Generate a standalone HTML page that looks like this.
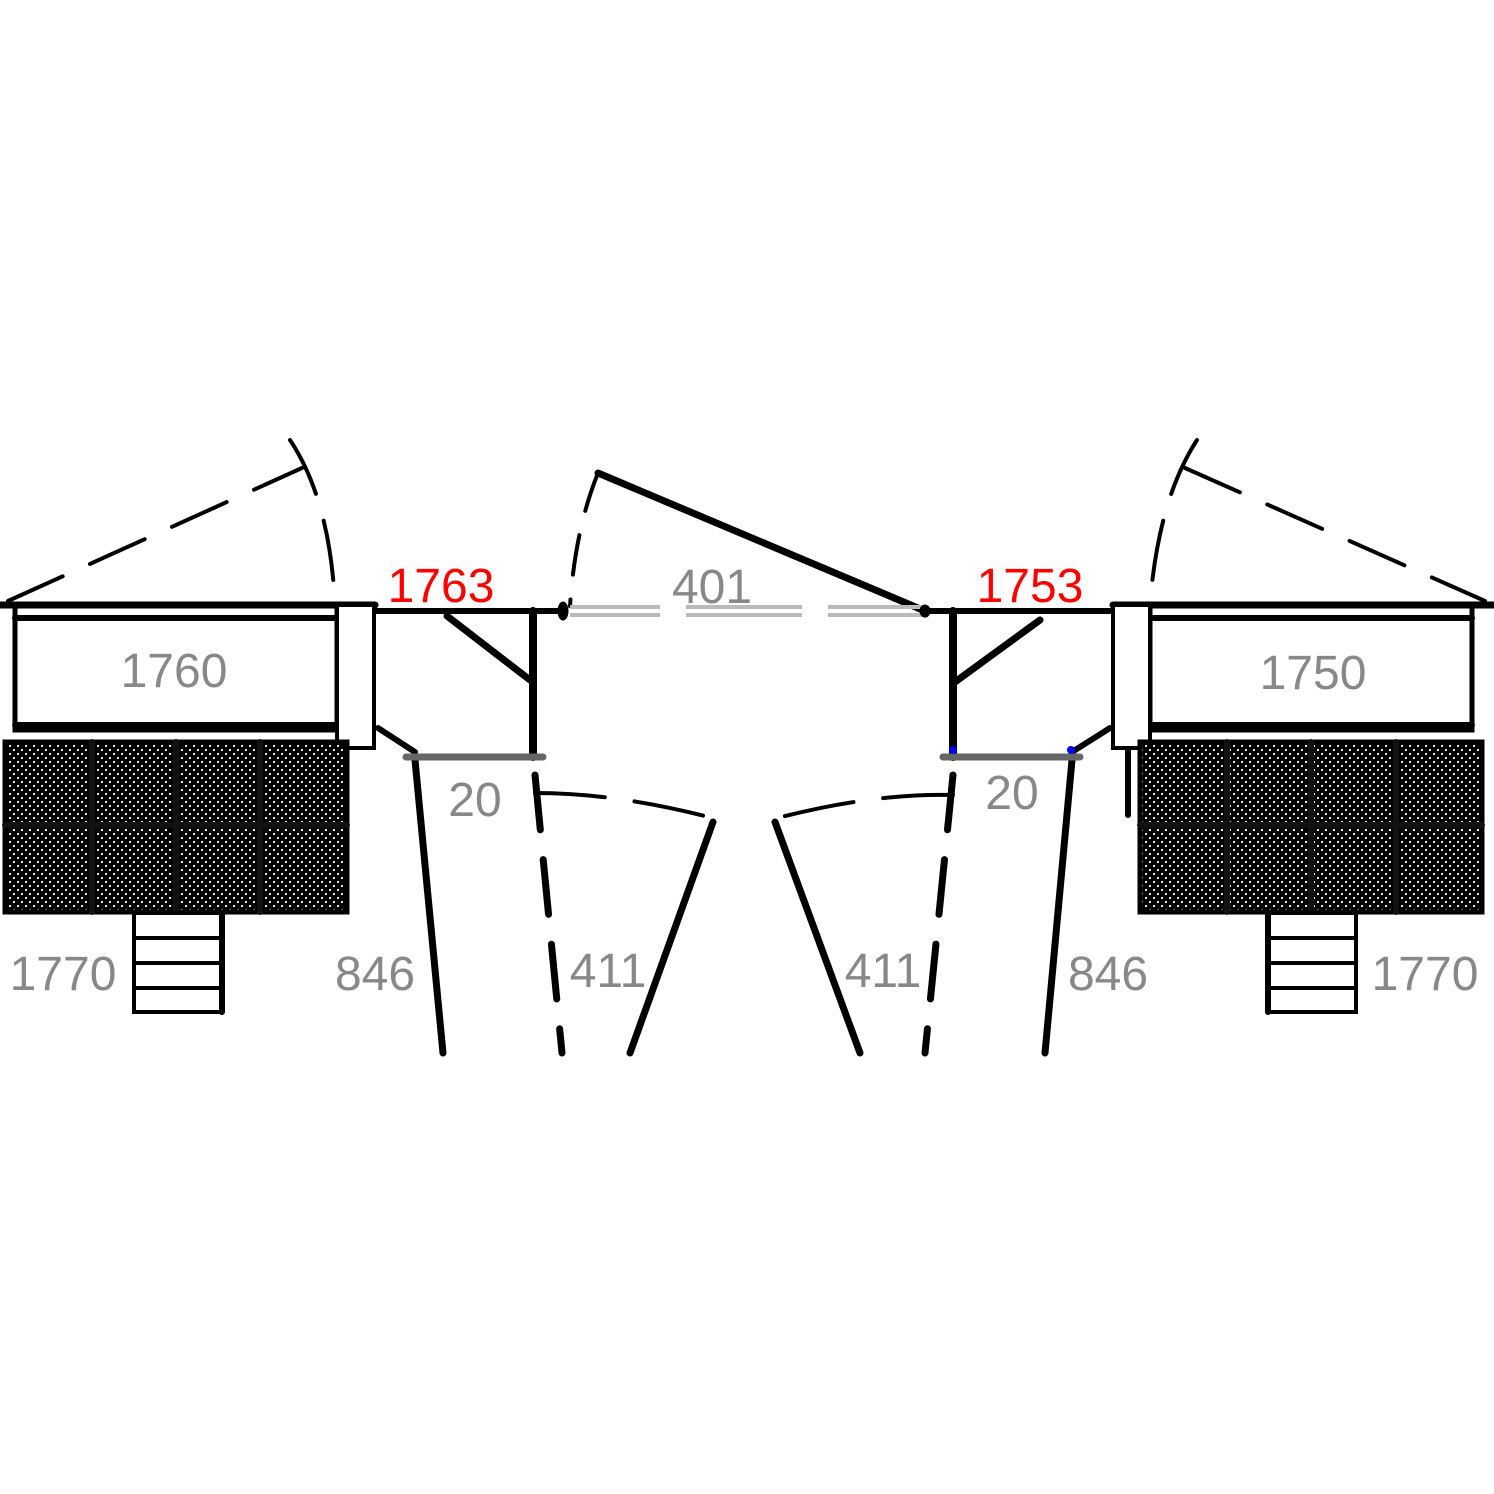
<!DOCTYPE html>
<html><head><style>body{margin:0;background:#fff}svg{display:block}</style></head><body>
<svg width="1494" height="1494" viewBox="0 0 1494 1494" xmlns="http://www.w3.org/2000/svg">
<defs>
<pattern id="dots" width="8" height="8" patternUnits="userSpaceOnUse"><rect width="8" height="8" fill="#000"/><circle cx="2" cy="2" r="1.1" fill="#fff"/><circle cx="6" cy="6" r="1.1" fill="#fff"/></pattern>
</defs>
<g fill="none" stroke="#000" stroke-linecap="round">
<!-- LEFT -->
<path d="M8 601 L302 468" stroke-width="4" stroke-dasharray="60 30"/>
<path d="M290 440 Q330 500 335 605" stroke-width="4" stroke-dasharray="60 28"/>
<line x1="0" y1="605" x2="375" y2="605" stroke-width="7"/>
<rect x="15" y="605" width="322" height="125" stroke-width="5"/>
<line x1="15" y1="618" x2="337" y2="618" stroke-width="6"/>
<line x1="15" y1="725" x2="337" y2="725" stroke-width="6"/>
<rect x="337" y="605" width="37" height="143" stroke-width="4" fill="#fff"/>
<rect x="5" y="742" width="342" height="170" fill="url(#dots)" stroke-width="5"/>
<line x1="5" y1="825" x2="347" y2="825" stroke="#111" stroke-width="6"/>
<line x1="92" y1="742" x2="92" y2="912" stroke="#111" stroke-width="6"/>
<line x1="176" y1="742" x2="176" y2="912" stroke="#111" stroke-width="6"/>
<line x1="260" y1="742" x2="260" y2="912" stroke="#111" stroke-width="6"/>
<rect x="134" y="913" width="88" height="99" stroke-width="4"/>
<line x1="134" y1="938" x2="222" y2="938" stroke-width="4"/>
<line x1="134" y1="963" x2="222" y2="963" stroke-width="4"/>
<line x1="134" y1="988" x2="222" y2="988" stroke-width="4"/>
<line x1="222" y1="913" x2="222" y2="1012" stroke-width="6"/>
<line x1="375" y1="611" x2="560" y2="611" stroke-width="6"/>
<line x1="447" y1="616" x2="530" y2="680" stroke-width="7"/>
<line x1="533" y1="611" x2="533" y2="757" stroke-width="8"/>
<line x1="378" y1="728" x2="415" y2="752" stroke-width="6"/>
<line x1="415" y1="760" x2="443" y2="1053" stroke-width="7"/>
<line x1="535" y1="775" x2="562" y2="1053" stroke-width="7" stroke-dasharray="55 30"/>
<path d="M535 793 Q620 793 720 820" stroke-width="4" stroke-dasharray="70 30"/>
<line x1="713" y1="822" x2="630" y2="1053" stroke-width="7"/>
<ellipse cx="563" cy="611" rx="5" ry="9" fill="#000"/>
<path d="M598 473 Q575 530 570 606" stroke-width="4" stroke-dasharray="40 25"/>
<line x1="598" y1="473" x2="925" y2="611" stroke-width="7"/>
<!-- gate -->
<g stroke="#bbb" stroke-width="4" stroke-linecap="butt">
<path d="M570 607 H660 M686 607 H802 M828 607 H925"/>
<path d="M570 615 H660 M686 615 H802 M828 615 H925"/>
</g>
<line x1="406" y1="757" x2="543" y2="757" stroke="#666" stroke-width="7"/>
<!-- RIGHT -->
<path d="M1185 468 L1485 601" stroke-width="4" stroke-dasharray="60 30"/>
<path d="M1197 440 Q1158 500 1150 605" stroke-width="4" stroke-dasharray="60 28"/>
<line x1="1113" y1="605" x2="1494" y2="605" stroke-width="7"/>
<rect x="1150" y="605" width="322" height="125" stroke-width="5"/>
<line x1="1150" y1="618" x2="1472" y2="618" stroke-width="6"/>
<line x1="1150" y1="725" x2="1472" y2="725" stroke-width="6"/>
<rect x="1113" y="605" width="37" height="143" stroke-width="4" fill="#fff"/>
<rect x="1140" y="742" width="342" height="170" fill="url(#dots)" stroke-width="5"/>
<line x1="1128" y1="750" x2="1128" y2="815" stroke-width="6"/>
<line x1="1140" y1="825" x2="1482" y2="825" stroke="#111" stroke-width="6"/>
<line x1="1227" y1="742" x2="1227" y2="912" stroke="#111" stroke-width="6"/>
<line x1="1311" y1="742" x2="1311" y2="912" stroke="#111" stroke-width="6"/>
<line x1="1396" y1="742" x2="1396" y2="912" stroke="#111" stroke-width="6"/>
<rect x="1268" y="913" width="88" height="99" stroke-width="4"/>
<line x1="1268" y1="938" x2="1356" y2="938" stroke-width="4"/>
<line x1="1268" y1="963" x2="1356" y2="963" stroke-width="4"/>
<line x1="1268" y1="988" x2="1356" y2="988" stroke-width="4"/>
<line x1="1268" y1="913" x2="1268" y2="1012" stroke-width="6"/>
<line x1="925" y1="611" x2="1110" y2="611" stroke-width="6"/>
<line x1="1040" y1="620" x2="955" y2="682" stroke-width="7"/>
<line x1="953" y1="611" x2="953" y2="757" stroke-width="8"/>
<line x1="1110" y1="728" x2="1072" y2="752" stroke-width="6"/>
<line x1="1072" y1="760" x2="1045" y2="1053" stroke-width="7"/>
<line x1="953" y1="775" x2="925" y2="1053" stroke-width="7" stroke-dasharray="55 30"/>
<path d="M953 795 Q870 793 770 820" stroke-width="4" stroke-dasharray="70 30"/>
<line x1="775" y1="822" x2="860" y2="1053" stroke-width="7"/>
<ellipse cx="925" cy="611" rx="5" ry="6" fill="#000"/>
<line x1="943" y1="757" x2="1080" y2="757" stroke="#666" stroke-width="7"/>
</g>
<circle cx="953" cy="750" r="4" fill="#00f"/>
<circle cx="1071" cy="750" r="4" fill="#00f"/>
<g font-family="Liberation Sans, sans-serif" font-size="48" fill="#888" text-anchor="middle">
<text x="174" y="687">1760</text>
<text x="1313" y="689">1750</text>
<text x="712" y="603">401</text>
<text x="475" y="816">20</text>
<text x="1012" y="809">20</text>
<text x="63" y="990">1770</text>
<text x="375" y="990">846</text>
<text x="608" y="987">411</text>
<text x="883" y="987">411</text>
<text x="1108" y="990">846</text>
<text x="1425" y="990">1770</text>
<text x="441" y="602" fill="#f00">1763</text>
<text x="1030" y="602" fill="#f00">1753</text>
</g>
</svg>
</body></html>
